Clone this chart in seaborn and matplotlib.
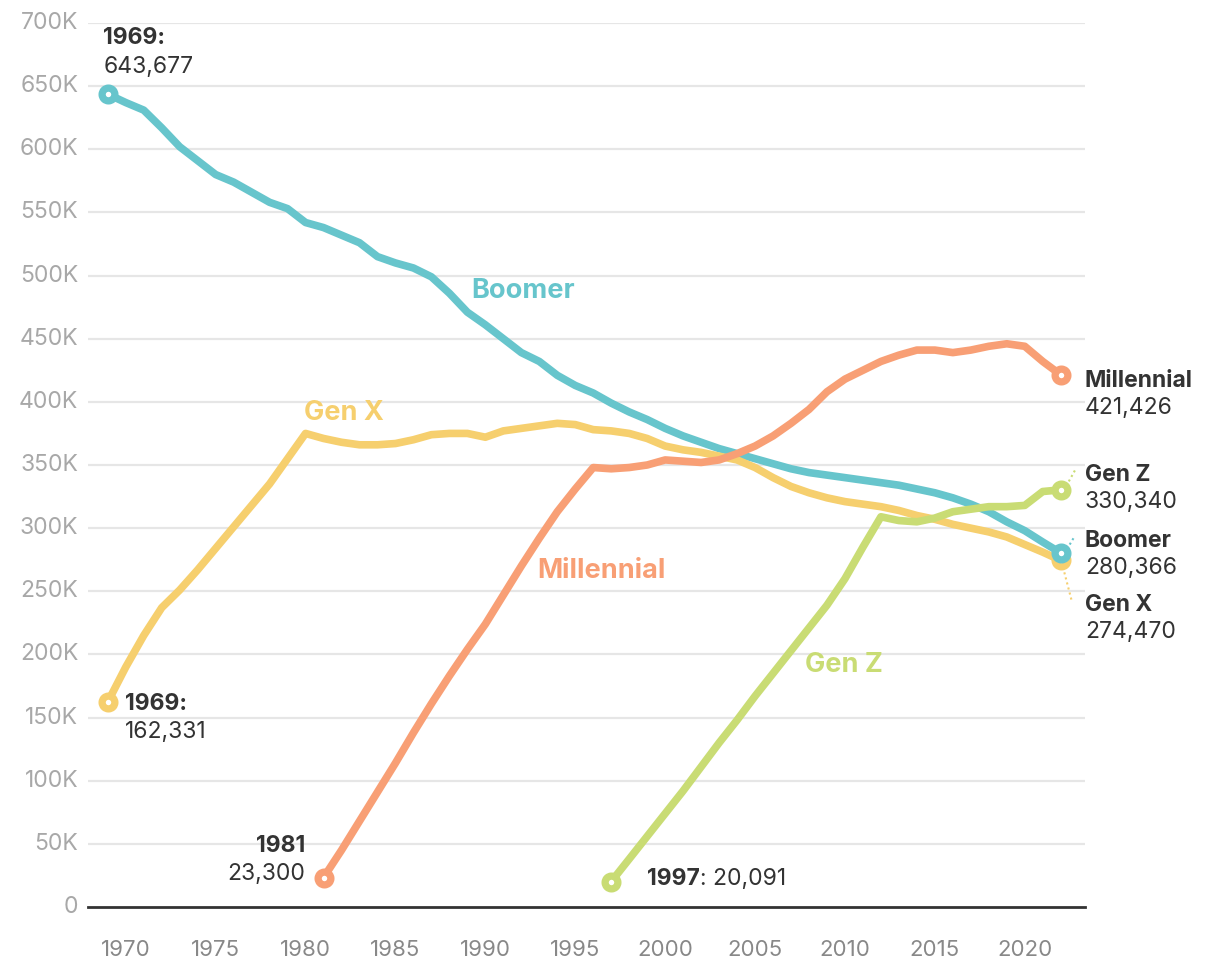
import numpy as np
import pandas as pd
import matplotlib.pyplot as plt
import seaborn as sns

# =========================================================================
# DATA (in thousands)
# =========================================================================
boomer_years = list(range(1969, 2023))
boomer_vals = [643.677, 637, 631, 617, 602, 591, 580, 574, 566, 558, 553, 542,
               538, 532, 526, 515, 510, 506, 499, 486, 471, 461, 450, 439,
               432, 421, 413, 407, 399, 392, 386, 379, 373, 368, 363, 359,
               355, 351, 347, 344, 342, 340, 338, 336, 334, 331, 328, 324,
               319, 313, 305, 298, 289, 280.366]

genx_years = list(range(1969, 2023))
genx_vals = [162.331, 190, 215, 237, 251, 267, 284, 301, 318, 335, 355, 375,
             371, 368, 366, 366, 367, 370, 374, 375, 375, 372, 377, 379,
             381, 383, 382, 378, 377, 375, 371, 365, 362, 360, 357, 354,
             348, 340, 333, 328, 324, 321, 319, 317, 314, 310, 307, 303,
             300, 297, 293, 287, 281, 274.470]

mill_years = list(range(1981, 2023))
mill_vals = [23.300, 45, 68, 91, 114, 138, 161, 183, 204, 224, 247, 270,
             292, 313, 331, 348, 347, 348, 350, 354, 353, 352, 354, 359,
             365, 373, 383, 394, 408, 418, 425, 432, 437, 441, 441, 439,
             441, 444, 446, 444, 432, 421.426]

genz_years = list(range(1997, 2023))
genz_vals = [20.091, 38, 56, 74, 92, 111, 130, 148, 167, 185, 203, 221,
             239, 260, 285, 309, 306, 305, 308, 313, 315, 317, 317, 318,
             329, 330.340]

generations = ["Boomer", "Gen X", "Millennial", "Gen Z"]
colors = {"Boomer": "#67c5cc", "Gen X": "#f6cf6e",
          "Millennial": "#f89f75", "Gen Z": "#c9dc74"}

y_ticks = [0, 50, 100, 150, 200, 250, 300, 350, 400, 450, 500, 550, 600, 650, 700]
y_tick_labels = ["0"] + [f"{v}K" for v in y_ticks[1:]]
x_ticks = list(range(1970, 2021, 5))

frames = []
for name, yrs, vals in [("Boomer", boomer_years, boomer_vals),
                        ("Gen X", genx_years, genx_vals),
                        ("Millennial", mill_years, mill_vals),
                        ("Gen Z", genz_years, genz_vals)]:
    frames.append(pd.DataFrame({"year": yrs, "value": np.array(vals) * 1000, "gen": name}))
df = pd.concat(frames, ignore_index=True)

# =========================================================================
# PLOT
# =========================================================================
sns.set_style("white")
plt.rcParams["font.family"] = ["Inter", "DejaVu Sans"]

fig = plt.figure(figsize=(12.2, 9.68), dpi=100)
ax = fig.add_axes([88 / 1220, (968 - 907) / 968, (1085 - 88) / 1220, (907 - 23) / 968])

for v in y_ticks[1:]:
    ax.axhline(v * 1000, color="#e6e6e6", lw=1.6, zorder=0)

sns.lineplot(data=df, x="year", y="value", hue="gen", hue_order=generations,
             palette=colors, lw=5.5, legend=False, ax=ax, zorder=3,
             solid_joinstyle="round", solid_capstyle="round")

# endpoint markers (first and last year of every series)
for name in ["Gen X", "Gen Z", "Millennial", "Boomer"]:
    sub = df[df["gen"] == name]
    pts = sub[sub["year"].isin([sub["year"].min(), sub["year"].max()])]
    ax.scatter(pts["year"], pts["value"], s=85, facecolor="white",
               edgecolor=colors[name], linewidth=5.2, zorder=5, clip_on=False)

ax.set_xlim(1967.9, 2023.35)
ax.set_ylim(0, 700000)
ax.set_yticks([v * 1000 for v in y_ticks])
ax.set_yticklabels(y_tick_labels)
ax.set_xticks(x_ticks)
ax.set_xlabel("")
ax.set_ylabel("")

for s in ["top", "right", "left"]:
    ax.spines[s].set_visible(False)
ax.spines["bottom"].set_color("#333333")
ax.spines["bottom"].set_linewidth(2)
ax.tick_params(axis="y", length=0, pad=7, labelsize=16.5, labelcolor="#a8a8a8")
ax.tick_params(axis="x", length=9, width=1.5, color="#333333", direction="out",
               pad=15, labelsize=16, labelcolor="#888888")
for lab in ax.get_yticklabels():
    lab.set_verticalalignment("center")

dark = "#333333"
fs = 16.5
fs_inline = 19.5

# start annotations
ax.text(1968.75, 688000, "1969:", fontsize=fs, fontweight="bold", color=dark, va="center")
ax.text(1968.75, 665000, "643,677", fontsize=fs, color=dark, va="center")
ax.text(1969.95, 160500, "1969:", fontsize=fs, fontweight="bold", color=dark, va="center")
ax.text(1969.95, 138500, "162,331", fontsize=fs, color=dark, va="center")
ax.text(1980.0, 48000, "1981", fontsize=fs, fontweight="bold", color=dark, va="center", ha="right")
ax.text(1980.0, 26000, "23,300", fontsize=fs, color=dark, va="center", ha="right")
t = ax.text(1999.0, 22000, "1997", fontsize=fs, fontweight="bold", color=dark, va="center")
ax.annotate(": 20,091", xycoords=t, xy=(1, 0.5), va="center", fontsize=fs, color=dark)

# inline series labels
ax.text(1989.2, 488000, "Boomer", fontsize=fs_inline, fontweight="bold", color=colors["Boomer"], va="center")
ax.text(1979.9, 391000, "Gen X", fontsize=fs_inline, fontweight="bold", color=colors["Gen X"], va="center")
ax.text(1992.9, 266000, "Millennial", fontsize=fs_inline, fontweight="bold", color=colors["Millennial"], va="center")
ax.text(2007.75, 191500, "Gen Z", fontsize=fs_inline, fontweight="bold", color=colors["Gen Z"], va="center")

# right-side end labels
xr = 2023.35
for name, y1, y2, val in [("Millennial", 416500, 395000, "421,426"),
                          ("Gen Z", 342000, 320700, "330,340"),
                          ("Boomer", 289800, 268400, "280,366"),
                          ("Gen X", 239000, 217700, "274,470")]:
    ax.text(xr, y1, name, fontsize=fs, fontweight="bold", color=dark, va="center", clip_on=False)
    ax.text(xr, y2, val, fontsize=fs, color=dark, va="center", clip_on=False)

# dotted leaders
ax.plot([2022.45, 2022.8], [337000, 346000], ls=(0, (1, 1.5)), lw=1.5, color=colors["Gen Z"], clip_on=False)
ax.plot([2022.5, 2022.75], [287000, 293000], ls=(0, (1, 1.5)), lw=1.5, color=colors["Boomer"], clip_on=False)
ax.plot([2022.2, 2022.6], [265000, 243000], ls=(0, (1, 1.5)), lw=1.5, color=colors["Gen X"], clip_on=False)

fig.savefig("out.png", dpi=100)
